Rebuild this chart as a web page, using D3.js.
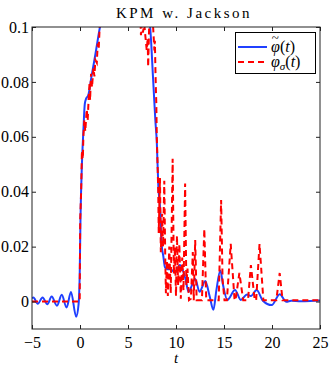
<!DOCTYPE html>
<html lang="en">
<head>
<meta charset="UTF-8">
<title>KPM w. Jackson</title>
<script src="https://cdnjs.cloudflare.com/ajax/libs/d3/7.8.5/d3.min.js"></script>
<style>
  body { margin: 0; background: #fff; }
  svg text { font-family: 'Liberation Serif', 'Times New Roman', serif; fill: #000; }
</style>
</head>
<body>
<div id="chart"></div>
<script>
// tick values
const xTicks = [-5, 0, 5, 10, 15, 20, 25];
const yTicks = [0, 0.02, 0.04, 0.06, 0.08, 0.1];

// phi tilde (blue, smooth)
const blueT = [-5, -4.85, -4.4, -3.9, -3.4, -2.95, -2.4, -1.9, -1.4, -0.94, -0.4, -0.15, -0.03, 0.05, 0.2, 0.35, 0.5, 0.65, 0.85, 1.2, 1.6, 2.08, 2.6, 3.5, 5, 6.5, 7.3, 7.6, 7.85, 8.0, 8.16, 8.33, 8.5, 8.68, 8.85, 9.1, 9.4, 9.72, 9.9, 10.4, 10.8, 11.0, 11.3, 12.0, 12.45, 13.05, 13.5, 13.9, 14.2, 14.62, 14.9, 15.35, 16.15, 16.75, 17.4, 17.8, 18.4, 19.05, 19.97, 20.8, 21.5, 22, 23, 24, 25];
const blueV = [0.0012, 0.0015, -0.0008, 0.0015, -0.001, 0.0018, -0.0015, 0.0025, -0.0022, 0.0035, -0.0055, -0.001, 0.01, 0.03, 0.05, 0.062, 0.072, 0.074, 0.075, 0.082, 0.09, 0.1, 0.108, 0.115, 0.118, 0.112, 0.1, 0.082, 0.066, 0.058, 0.042, 0.0345, 0.021, 0.0165, 0.0125, 0.0118, 0.0118, 0.011, 0.0105, 0.0133, 0.0105, 0.008, 0.0036, 0.0082, 0.0036, 0.0075, 0.002, -0.003, 0.004, 0.0113, 0.006, 0.0006, 0.0042, 0.0006, 0.0026, 0.002, 0.0042, 0.0003, -0.0013, 0.0027, -0.0001, 0.0003, 0.0001, 0.0002, 0.0004];

// phi sigma (red, dashed, spiky)
const redT = [-5, -0.03, 0.02, 0.12, 0.2, 0.3, 0.35, 0.45, 0.55, 0.7, 0.8, 0.9, 1.0, 1.05, 1.15, 1.25, 1.4, 1.5, 1.6, 1.75, 1.85, 1.95, 2.05, 2.3, 6.2, 6.35, 6.45, 6.55, 6.7, 6.8, 6.95, 7.05, 7.1, 7.2, 7.4, 7.6, 7.75, 7.8, 7.85, 7.9, 7.95, 8.0, 8.08, 8.15, 8.2, 8.33, 8.42, 8.55, 8.65, 8.78, 8.88, 8.95, 9.05, 9.15, 9.3, 9.45, 9.65, 9.78, 9.88, 10.0, 10.1, 10.22, 10.35, 10.5, 10.65, 10.78, 10.95, 11.08, 11.2, 11.35, 11.55, 11.75, 11.85, 12.0, 12.15, 12.7, 12.95, 13.15, 14.45, 14.7, 14.85, 15.05, 15.3, 15.7, 16.1, 16.2, 16.6, 17.0, 17.5, 17.8, 18.2, 18.35, 18.7, 19.1, 20.45, 20.8, 21.1, 25];
const redV = [0, 0, 0.03, 0.04, 0.055, 0.052, 0.06, 0.066, 0.062, 0.07, 0.066, 0.074, 0.08, 0.0733, 0.083, 0.078, 0.085, 0.082, 0.088, 0.087, 0.094, 0.092, 0.1, 0.112, 0.112, 0.097, 0.101, 0.098, 0.101, 0.097, 0.0915, 0.096, 0.0855, 0.1, 0.106, 0.101, 0.0915, 0.095, 0.0855, 0.078, 0.072, 0.06, 0.05, 0.04, 0.025, 0.045, 0.018, 0.032, 0.02, 0.044, 0.016, 0.003, 0.015, 0.002, 0.02, 0.003, 0.052, 0.01, 0.02, 0.002, 0.024, 0.006, 0.021, 0.001, 0.016, 0.004, 0.043, 0.006, 0.012, 0.0005, 0.001, 0.018, 0.0005, 0.0224, 0.0005, 0.0005, 0.0265, 0.0005, 0.0005, 0.037, 0.008, 0.0005, 0.0005, 0.021, 0.0005, 0.0005, 0.0104, 0.0005, 0.0005, 0.0133, 0.0005, 0.0005, 0.021, 0.0005, 0.0005, 0.0104, 0.0005, 0.0005];

(function() {
  const width = 332, height = 365;
  const mLeft = 32, mRight = 320, mTop = 27, mBottom = 329;

  const x = d3.scaleLinear().domain([-5, 25]).range([mLeft, mRight]);
  const y = d3.scaleLinear().domain([-0.01, 0.1]).range([mBottom, mTop]);

  const svg = d3.select("#chart").append("svg")
    .attr("width", width).attr("height", height);

  svg.append("defs").append("clipPath").attr("id", "plotclip")
    .append("rect").attr("x", mLeft).attr("y", mTop)
    .attr("width", mRight - mLeft).attr("height", mBottom - mTop);

  const blueData = blueT.map((t, i) => [t, blueV[i]]);
  const redData = redT.map((t, i) => [t, redV[i]]);

  const plot = svg.append("g").attr("clip-path", "url(#plotclip)");

  plot.append("path")
    .datum(blueData)
    .attr("fill", "none")
    .attr("stroke", "#2040ff")
    .attr("stroke-width", 2)
    .attr("d", d3.line().x(d => x(d[0])).y(d => y(d[1])).curve(d3.curveMonotoneX));

  plot.append("path")
    .datum(redData)
    .attr("fill", "none")
    .attr("stroke", "#ff0000")
    .attr("stroke-width", 2)
    .attr("stroke-dasharray", "6,4")
    .attr("d", d3.line().x(d => x(d[0])).y(d => y(d[1])));

  // axes, matlab style: ticks inside on all four sides
  const tickLen = 4;
  svg.append("g").attr("transform", `translate(0,${mBottom})`)
    .call(d3.axisBottom(x).tickValues(xTicks).tickSizeInner(-tickLen).tickSizeOuter(0).tickPadding(8)
      .tickFormat(d => d < 0 ? "\u2212" + Math.abs(d) : d));
  svg.append("g").attr("transform", `translate(0,${mTop})`)
    .call(d3.axisTop(x).tickValues(xTicks).tickSizeInner(-tickLen).tickSizeOuter(0).tickFormat(""));
  svg.append("g").attr("transform", `translate(${mLeft},0)`)
    .call(d3.axisLeft(y).tickValues(yTicks).tickSizeInner(-tickLen).tickSizeOuter(0).tickPadding(3)
      .tickFormat(d => d === 0 ? "0" : String(+d.toFixed(2))));
  svg.append("g").attr("transform", `translate(${mRight},0)`)
    .call(d3.axisRight(y).tickValues(yTicks).tickSizeInner(-tickLen).tickSizeOuter(0).tickFormat(""));

  svg.selectAll(".domain").remove();
  svg.selectAll(".tick line").attr("stroke", "#222");
  svg.selectAll(".tick text").style("font-size", "16px").style("font-family", "'Liberation Serif', serif");

  svg.append("rect")
    .attr("x", mLeft).attr("y", mTop)
    .attr("width", mRight - mLeft).attr("height", mBottom - mTop)
    .attr("fill", "none").attr("stroke", "#222").attr("stroke-width", 1);

  // title and x label
  svg.append("text")
    .attr("x", 184).attr("y", 18)
    .attr("text-anchor", "middle")
    .style("font-size", "15px")
    .style("letter-spacing", "2.5px")
    .text("KPM w. Jackson");

  svg.append("text")
    .attr("x", 176).attr("y", 363)
    .attr("text-anchor", "middle")
    .style("font-size", "15px")
    .style("font-style", "italic")
    .text("t");

  // legend
  const lg = svg.append("g");
  lg.append("rect")
    .attr("x", 235.5).attr("y", 32.5).attr("width", 80).attr("height", 41)
    .attr("fill", "#fff").attr("stroke", "#000").attr("stroke-width", 1);
  lg.append("line").attr("x1", 238).attr("x2", 267).attr("y1", 47).attr("y2", 47)
    .attr("stroke", "#2040ff").attr("stroke-width", 2);
  lg.append("line").attr("x1", 238).attr("x2", 267).attr("y1", 62).attr("y2", 62)
    .attr("stroke", "#ff0000").attr("stroke-width", 2).attr("stroke-dasharray", "6,4");

  // phi with a tilde above it, kept in one text element
  const t1 = lg.append("text").attr("x", 271).attr("y", 52).style("font-size", "16px");
  t1.append("tspan").style("font-style", "italic").text("\u03C6");
  t1.append("tspan").attr("dx", -8).attr("dy", -10).style("font-size", "13px").text("~");
  t1.append("tspan").attr("dx", 1).attr("dy", 10).text("(");
  t1.append("tspan").style("font-style", "italic").text("t");
  t1.append("tspan").text(")");

  const t2 = lg.append("text").attr("x", 271).attr("y", 67).style("font-size", "16px");
  t2.append("tspan").style("font-style", "italic").text("\u03C6");
  t2.append("tspan").style("font-style", "italic").style("font-size", "11px").attr("dy", 3).text("\u03C3");
  t2.append("tspan").attr("dy", -3).text("(");
  t2.append("tspan").style("font-style", "italic").text("t");
  t2.append("tspan").text(")");
})();
</script>
</body>
</html>
